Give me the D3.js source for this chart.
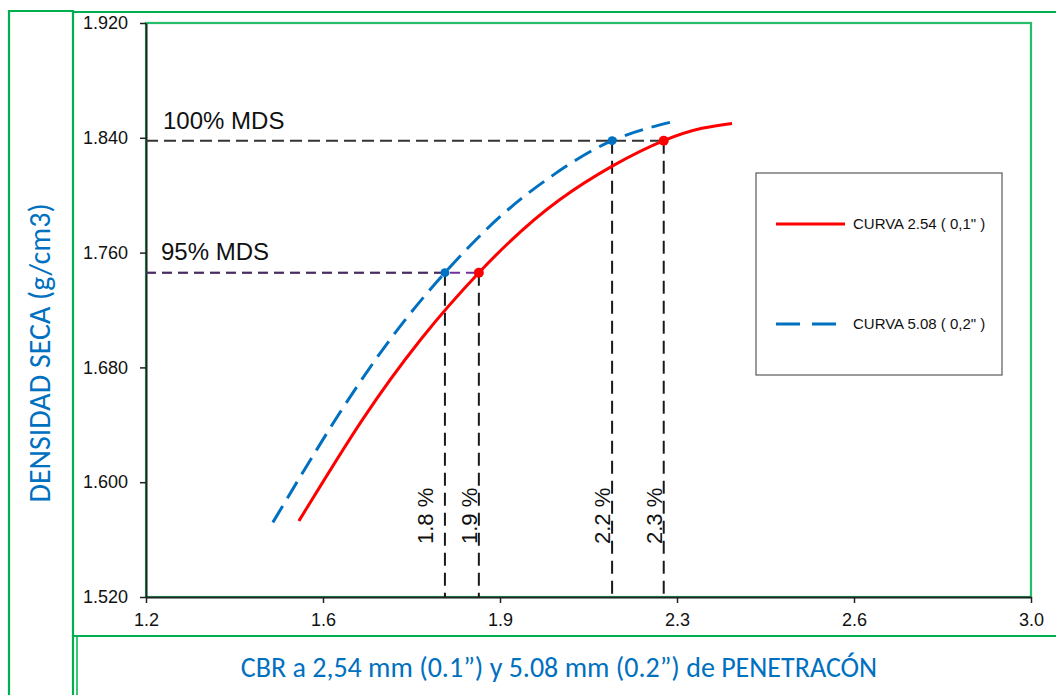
<!DOCTYPE html>
<html><head><meta charset="utf-8">
<script src="https://cdn.jsdelivr.net/npm/d3@7"></script>
<style>body{margin:0;background:#fff}svg{display:block}</style>
</head><body>
<svg id="chart" width="1056" height="695"></svg>
<script>
// ---------- data ----------
const xTicks = [1.2, 1.56, 1.92, 2.28, 2.64, 3.0];
const yTicks = [1.52, 1.60, 1.68, 1.76, 1.84, 1.92];
const curve254X = [1.511, 1.641, 1.760, 1.877, 2.042, 2.253, 2.392];
const curve254Y = [1.573, 1.644, 1.700, 1.746, 1.797, 1.838, 1.850];
const curve508X = [1.458, 1.586, 1.700, 1.808, 1.920, 2.028, 2.148, 2.280];
const curve508Y = [1.572, 1.644, 1.701, 1.746, 1.785, 1.814, 1.838, 1.852];
const mdsLevels = [1.838, 1.746];
const mdsLabels = ["100% MDS", "95% MDS"];
const cbr508 = [1.808, 2.148];          // CBR at 95% / 100% for curve 5.08
const cbr254 = [1.877, 2.253];          // CBR at 95% / 100% for curve 2.54
const cbrLabels508 = ["1.8 %", "2.2 %"];
const cbrLabels254 = ["1.9 %", "2.3 %"];
const legendLabels = ['CURVA 2.54 ( 0,1" )', 'CURVA 5.08 ( 0,2" )'];
const xTitle = "CBR a 2,54 mm (0.1\u201D) y 5.08 mm (0.2\u201D) de PENETRAC\u00D3N";
const yTitle = "DENSIDAD SECA (g/cm3)";

// ---------- styles ----------
const GREEN = "#00B050", RED = "#FF0000", BLUE = "#0070C0";
const svg = d3.select("#chart");
const W = 1056, H = 695;
const plot = {left: 146, right: 1031, top: 23, bottom: 597};

const x = d3.scaleLinear().domain([xTicks[0], xTicks[xTicks.length-1]]).range([plot.left, plot.right]);
const y = d3.scaleLinear().domain([yTicks[0], yTicks[yTicks.length-1]]).range([plot.bottom, plot.top]);

svg.append("rect").attr("width", W).attr("height", H).attr("fill", "#fff");

// ---------- frames ----------
const fr = svg.append("g").attr("stroke", GREEN).attr("stroke-width", 2.2).attr("fill", "none");
fr.append("path").attr("d", `M9,${H} V11 H73 V${H}`);
fr.append("line").attr("x1", 73).attr("x2", W).attr("y1", 12).attr("y2", 12);
fr.append("line").attr("x1", 73).attr("x2", W).attr("y1", 636).attr("y2", 636);
fr.append("line").attr("x1", 77).attr("x2", 77).attr("y1", 636).attr("y2", H).attr("stroke-width", 1.5);
svg.append("rect").attr("x", plot.left).attr("y", plot.top)
  .attr("width", plot.right - plot.left).attr("height", plot.bottom - plot.top)
  .attr("fill", "none").attr("stroke", GREEN).attr("stroke-width", 2.2).attr("stroke-opacity", 0.85);

// ---------- axes ----------
const yAxis = svg.append("g").attr("transform", `translate(${plot.left},0)`)
  .call(d3.axisLeft(y).tickValues(yTicks).tickFormat(d3.format(".3f")).tickSize(6).tickSizeOuter(0).tickPadding(12));
const xAxis = svg.append("g").attr("transform", `translate(0,${plot.bottom})`)
  .call(d3.axisBottom(x).tickValues(xTicks).tickFormat(d3.format(".1f")).tickSize(6).tickSizeOuter(0).tickPadding(10));
[yAxis, xAxis].forEach(a => {
  a.selectAll("path.domain").attr("stroke", "#222").attr("stroke-width", 2);
  a.selectAll(".tick line").attr("stroke", "#222").attr("stroke-width", 1.5);
  a.selectAll("text").attr("font-family", "Arial, 'Liberation Sans', sans-serif")
    .attr("font-size", 18).attr("fill", "#111");
});

// ---------- reference lines ----------
const refG = svg.append("g").attr("fill", "none").attr("stroke-width", 2);
// 100% MDS horizontal
refG.append("line").attr("x1", x(xTicks[0])).attr("x2", x(cbr254[1]))
  .attr("y1", y(mdsLevels[0])).attr("y2", y(mdsLevels[0]))
  .attr("stroke", "#333").attr("stroke-dasharray", "12,6");
// 95% MDS horizontal (purple + dark overlay)
refG.append("line").attr("x1", x(xTicks[0])).attr("x2", x(cbr254[0]))
  .attr("y1", y(mdsLevels[1])).attr("y2", y(mdsLevels[1]))
  .attr("stroke", "#7030A0").attr("stroke-dasharray", "10,6");
refG.append("line").attr("x1", x(xTicks[0])).attr("x2", x(cbr508[0]))
  .attr("y1", y(mdsLevels[1])).attr("y2", y(mdsLevels[1]))
  .attr("stroke", "#2a2a2a").attr("stroke-opacity", 0.6).attr("stroke-dasharray", "10,6");
// verticals
const verts = [
  {v: cbr508[0], lvl: mdsLevels[1], label: cbrLabels508[0], shift: -12},
  {v: cbr254[0], lvl: mdsLevels[1], label: cbrLabels254[0], shift: -2},
  {v: cbr508[1], lvl: mdsLevels[0], label: cbrLabels508[1], shift: -2},
  {v: cbr254[1], lvl: mdsLevels[0], label: cbrLabels254[1], shift: -2}
];
verts.forEach(d => {
  refG.append("line").attr("x1", x(d.v)).attr("x2", x(d.v))
    .attr("y1", y(d.lvl)).attr("y2", y(yTicks[0]))
    .attr("stroke", "#1a1a1a").attr("stroke-dasharray", "13,7");
  svg.append("text").attr("transform", `translate(${x(d.v) + d.shift},544) rotate(-90)`)
    .attr("font-family", "Arial, 'Liberation Sans', sans-serif").attr("font-size", 22)
    .attr("fill", "#111").text(d.label);
});
// MDS labels
svg.append("text").attr("x", 163).attr("y", y(mdsLevels[0]) - 12)
  .attr("font-family", "Arial, 'Liberation Sans', sans-serif").attr("font-size", 24).attr("fill", "#111").text(mdsLabels[0]);
svg.append("text").attr("x", 161).attr("y", y(mdsLevels[1]) - 13)
  .attr("font-family", "Arial, 'Liberation Sans', sans-serif").attr("font-size", 24).attr("fill", "#111").text(mdsLabels[1]);

// ---------- curves ----------
const line = d3.line().x(d => x(d[0])).y(d => y(d[1])).curve(d3.curveNatural);
const red = curve254X.map((v, i) => [v, curve254Y[i]]);
const blue = curve508X.map((v, i) => [v, curve508Y[i]]);
svg.append("path").datum(blue).attr("d", line).attr("fill", "none")
  .attr("stroke", BLUE).attr("stroke-width", 3).attr("stroke-dasharray", "19,9");
svg.append("path").datum(red).attr("d", line).attr("fill", "none")
  .attr("stroke", RED).attr("stroke-width", 3);

// dots
cbr508.forEach((v, i) => svg.append("circle").attr("cx", x(v)).attr("cy", y(mdsLevels[1 - i])).attr("r", 4.5).attr("fill", BLUE));
cbr254.forEach((v, i) => svg.append("circle").attr("cx", x(v)).attr("cy", y(mdsLevels[1 - i])).attr("r", 5).attr("fill", RED));

// ---------- legend ----------
const lg = svg.append("g");
lg.append("rect").attr("x", 756).attr("y", 173).attr("width", 246).attr("height", 202)
  .attr("fill", "#fff").attr("stroke", "#595959").attr("stroke-width", 1.2);
const legendStyles = [{c: RED, dash: null, y: 224}, {c: BLUE, dash: "24,12", y: 324}];
legendLabels.forEach((t, i) => {
  const s = legendStyles[i];
  lg.append("line").attr("x1", 776).attr("x2", 845).attr("y1", s.y).attr("y2", s.y)
    .attr("stroke", s.c).attr("stroke-width", 3).attr("stroke-dasharray", s.dash);
  lg.append("text").attr("x", 853).attr("y", s.y).attr("dy", "0.35em")
    .attr("font-family", "Arial, 'Liberation Sans', sans-serif").attr("font-size", 15)
    .attr("fill", "#111").text(t);
});

// ---------- titles ----------
svg.append("text").attr("x", 559).attr("y", 677).attr("text-anchor", "middle")
  .attr("font-family", "Carlito, Lato, sans-serif").attr("font-size", 28).attr("fill", BLUE).text(xTitle);
svg.append("text").attr("transform", "translate(50,353) rotate(-90)").attr("text-anchor", "middle")
  .attr("font-family", "Carlito, Lato, sans-serif").attr("font-size", 30).attr("fill", BLUE).text(yTitle);
</script>
</body></html>
